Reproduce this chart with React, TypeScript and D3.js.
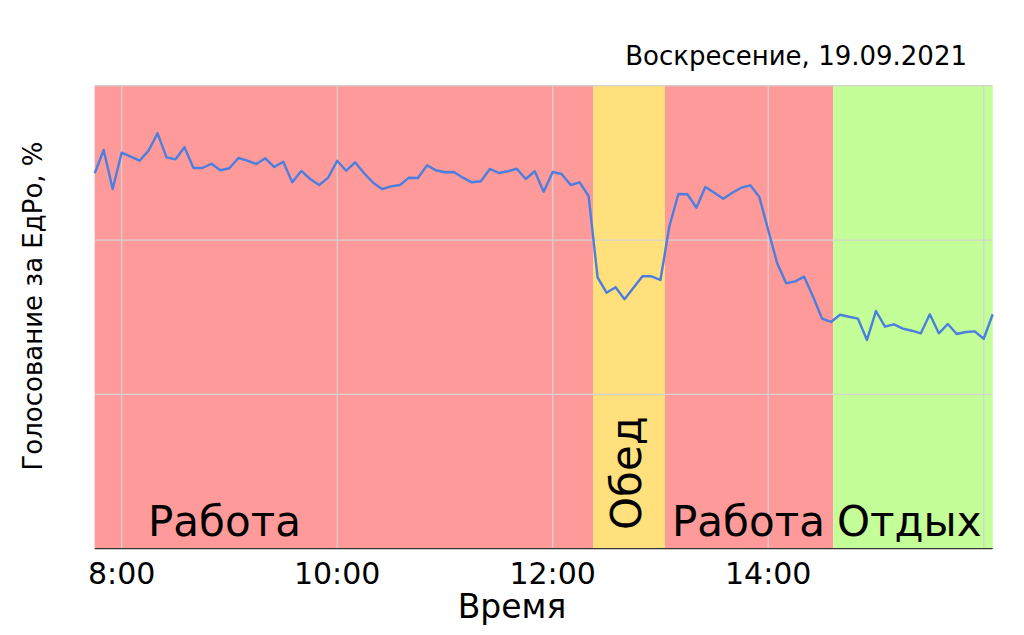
import React from "react";
import * as d3 from "d3";

const startTime = "2021-09-19T07:45:00";
const stepMinutes = 5;
const values: number[] = [
  48.65, 51.67, 46.61, 51.32, 50.8, 50.28, 51.58, 53.83, 50.72, 50.46,
  52.02, 49.33, 49.33, 49.89, 49.04, 49.3, 50.63, 50.28, 49.85, 50.59,
  49.46, 50.15, 47.48, 48.95, 47.91, 47.13, 48.08, 50.28, 48.98, 50.07,
  48.65, 47.43, 46.61, 46.96, 47.13, 48.08, 48.04, 49.68, 49.04, 48.78,
  48.82, 48.08, 47.48, 47.61, 49.21, 48.69, 48.91, 49.24, 47.91, 48.91,
  46.26, 48.82, 48.56, 47.13, 47.48, 45.71, 35.17, 33.18, 33.87, 32.32,
  33.82, 35.3, 35.3, 34.82, 41.82, 45.97, 45.93, 44.19, 46.87, 46.13,
  45.36, 46.13, 46.78, 47.09, 45.62, 41.3, 36.98, 34.39, 34.65, 35.25,
  32.66, 29.81, 29.38, 30.32, 30.06, 29.81, 27.05, 30.8, 28.77, 29.08,
  28.51, 28.25, 27.91, 30.38, 27.91, 29.12, 27.82, 28.08, 28.17, 27.21,
  30.38,
];

const bandLabels = ["Работа", "Обед", "Работа", "Отдых"];
const bandStarts = ["2021-09-19T07:45:00", "2021-09-19T12:22:30", "2021-09-19T13:02:30", "2021-09-19T14:36:15"];
const bandEnds = ["2021-09-19T12:22:30", "2021-09-19T13:02:30", "2021-09-19T14:36:15", "2021-09-19T16:05:00"];
const bandColors = ["#fe9a9a", "#ffe07c", "#fe9a9a", "#c4fe98"];

const xTickHours = [8, 10, 12, 14];
const xGridHours = [8, 10, 12, 14, 16];
const yGrid = [20, 40, 60];

const title = "Воскресение, 19.09.2021";
const xLabel = "Время";
const yLabel = "Голосование за ЕдРо, %";

export default function App() {
  const W = 1024, H = 635;
  const left = 94.7, right = 992.7, top = 85.7, bottom = 548.7;
  const t0 = new Date(startTime);
  const times = values.map((_, i) => new Date(t0.getTime() + i * stepMinutes * 60000));
  const x = d3.scaleTime().domain([times[0], times[times.length - 1]]).range([left, right]);
  const y = d3.scaleLinear().domain([0, 60]).range([bottom, top]);
  const hourDate = (h: number) => new Date(2021, 8, 19, h, 0, 0);
  const line = d3
    .line<number>()
    .x((_, i) => x(times[i]))
    .y((v) => y(v));
  const font = "'DejaVu Sans', sans-serif";

  return (
    <div style={{ position: "fixed", left: 0, top: 0 }}>
      <svg width={W} height={H} style={{ display: "block", background: "#fff" }}>
        {bandLabels.map((_, i) => (
          <rect
            key={"b" + i}
            x={x(new Date(bandStarts[i]))}
            y={top}
            width={x(new Date(bandEnds[i])) - x(new Date(bandStarts[i]))}
            height={bottom - top}
            fill={bandColors[i]}
          />
        ))}
        {xGridHours.map((h) => (
          <line key={"gx" + h} x1={x(hourDate(h))} x2={x(hourDate(h))} y1={top} y2={bottom} stroke="#d3d3d3" strokeWidth={1.2} />
        ))}
        {yGrid.map((v) => (
          <line key={"gy" + v} x1={left} x2={right} y1={y(v)} y2={y(v)} stroke="#d3d3d3" strokeWidth={1.2} />
        ))}
        <path d={line(values) || ""} fill="none" stroke="#4a7fdf" strokeWidth={2.4} strokeLinejoin="round" />
        <line x1={left} x2={right} y1={bottom} y2={bottom} stroke="#333" strokeWidth={1.2} />
        <g fontFamily={font} fill="#000">
          <text x={148} y={536} fontSize={42}>{bandLabels[0]}</text>
          <text transform={`translate(641,530) rotate(-90)`} fontSize={42}>{bandLabels[1]}</text>
          <text x={672} y={536} fontSize={42}>{bandLabels[2]}</text>
          <text x={837} y={536} fontSize={42}>{bandLabels[3]}</text>
          {xTickHours.map((h) => (
            <text key={"t" + h} x={x(hourDate(h))} y={583.5} fontSize={30} textAnchor="middle">
              {d3.timeFormat("%-H:%M")(hourDate(h))}
            </text>
          ))}
          <text x={512} y={618} fontSize={33} textAnchor="middle">{xLabel}</text>
          <text transform={`translate(42,306) rotate(-90)`} fontSize={26} textAnchor="middle">{yLabel}</text>
          <text x={967} y={65} fontSize={26} textAnchor="end">{title}</text>
        </g>
      </svg>
    </div>
  );
}
